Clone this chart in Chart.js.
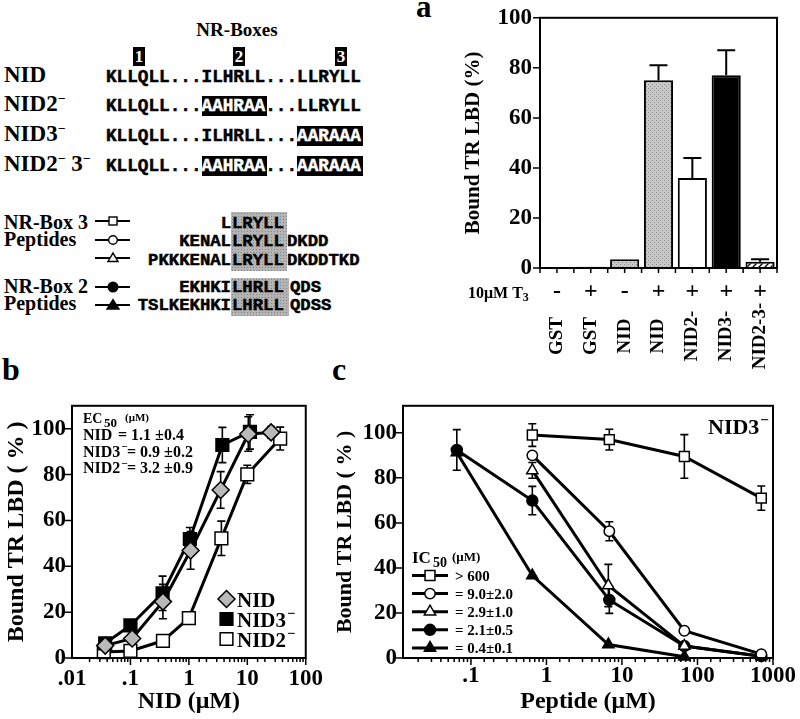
<!DOCTYPE html>
<html>
<head>
<meta charset="utf-8">
<title>NID binding to TR LBD</title>
<script src="https://cdn.jsdelivr.net/npm/chart.js@4.4.1/dist/chart.umd.min.js"></script>
<style>
  body { margin: 0; background: #fff; }
  #page { position: relative; width: 800px; height: 719px; overflow: hidden; background: #fff;
          font-family: "Liberation Serif", "Times New Roman", serif; font-weight: bold; color: #000; }
  #page div, #page canvas, #page svg { position: absolute; }
  .t { white-space: nowrap; line-height: 1; }
  .seq, .pep { font-family: "Liberation Mono", "Courier New", monospace; line-height: 1; white-space: pre;
               -webkit-text-stroke: 0.5px #000; }
  .seq { font-size: 17.7px; }
  .pep { font-size: 17.3px; }
  .mut { background: #000; color: #fff; -webkit-text-stroke-color: #fff; padding-right: 2px; margin-right: -2px; }
  .box { background: #000; color: #fff; width: 12px; height: 19px; font-size: 17px; line-height: 19px; text-align: center; }
  .core { background-color: #b4b4b4; background-image: radial-gradient(#858585 0.7px, transparent 0.9px); background-size: 3px 3px; }
  sup { font-size: 0.6em; vertical-align: 0.55em; line-height: 0; }
</style>
</head>
<body>
<div id="page">
  <!-- NR box constructs -->
  <div class="t" style="left:237px;top:20px;font-size:19px;transform:translateX(-50%)">NR-Boxes</div>
  <div class="box" style="left:133px;top:47px">1</div>
  <div class="box" style="left:233px;top:47px">2</div>
  <div class="box" style="left:335px;top:47px">3</div>

  <div class="t" style="left:4px;top:63px;font-size:23px">NID</div>
  <div class="t" style="left:4px;top:92px;font-size:23px">NID2<sup>−</sup></div>
  <div class="t" style="left:4px;top:122px;font-size:23px">NID3<sup>−</sup></div>
  <div class="t" style="left:4px;top:152px;font-size:23px">NID2<sup>−</sup> 3<sup>−</sup></div>

  <div class="seq" style="left:106px;top:69px">KLLQLL...ILHRLL...LLRYLL</div>
  <div class="seq" style="left:106px;top:98px">KLLQLL...<span class="mut">AAHRAA</span>...LLRYLL</div>
  <div class="seq" style="left:106px;top:128px">KLLQLL...ILHRLL...<span class="mut">AARAAA</span></div>
  <div class="seq" style="left:106px;top:158px">KLLQLL...<span class="mut">AAHRAA</span>...<span class="mut">AARAAA</span></div>

  <!-- peptides -->
  <div class="t" style="left:4px;top:212px;font-size:20px">NR-Box 3</div>
  <div class="t" style="left:4px;top:229px;font-size:20px">Peptides</div>
  <div class="t" style="left:4px;top:276px;font-size:20px">NR-Box 2</div>
  <div class="t" style="left:4px;top:293px;font-size:20px">Peptides</div>

  <div class="core" style="left:231px;top:212px;width:56px;height:59px"></div>
  <div class="core" style="left:231px;top:278px;width:58px;height:38px"></div>

  <div class="pep" style="right:569px;top:215px">L</div>
  <div class="pep" style="left:232px;top:215px">LRYLL</div>
  <div class="pep" style="right:569px;top:233px">KENAL</div>
  <div class="pep" style="left:232px;top:233px">LRYLL</div>
  <div class="pep" style="left:287px;top:233px">DKDD</div>
  <div class="pep" style="right:569px;top:252px">PKKKENAL</div>
  <div class="pep" style="left:232px;top:252px">LRYLL</div>
  <div class="pep" style="left:287px;top:252px">DKDDTKD</div>
  <div class="pep" style="right:569px;top:279px">EKHKI</div>
  <div class="pep" style="left:232px;top:279px">LHRLL</div>
  <div class="pep" style="left:290px;top:279px">QDS</div>
  <div class="pep" style="right:569px;top:297px">TSLKEKHKI</div>
  <div class="pep" style="left:232px;top:297px">LHRLL</div>
  <div class="pep" style="left:290px;top:297px">QDSS</div>

  <svg style="left:0;top:0" width="400" height="330">
    <g stroke="#000" stroke-width="2.2">
      <line x1="95" y1="221" x2="130" y2="221"/>
      <line x1="95" y1="240" x2="130" y2="240"/>
      <line x1="95" y1="258" x2="130" y2="258"/>
      <line x1="95" y1="287" x2="130" y2="287"/>
      <line x1="95" y1="305" x2="130" y2="305"/>
    </g>
    <g stroke="#000" stroke-width="1.4">
      <rect x="109" y="217" width="8" height="8" fill="#fff"/>
      <circle cx="113" cy="240" r="4.3" fill="#fff"/>
      <polygon points="113,253 118,261.5 108,261.5" fill="#fff"/>
      <circle cx="113" cy="287" r="4.8" fill="#000"/>
      <polygon points="113,299.5 119,309 107,309" fill="#000"/>
    </g>
  </svg>

  <div class="t" style="left:416px;top:-9px;font-size:31px">a</div>
  <div class="t" style="left:2px;top:353px;font-size:32px">b</div>
  <div class="t" style="left:332px;top:353px;font-size:32px">c</div>

  <canvas id="chartA" width="400" height="384" style="left:400px;top:-4px"></canvas>
  <canvas id="chartB" width="330" height="333" style="left:0px;top:386px"></canvas>
  <canvas id="chartC" width="470" height="333" style="left:330px;top:386px"></canvas>
</div>

<script>
// ---- panel a: pull-down with GST-NID constructs ----
const bindingLabels = ['GST', 'GST', 'NID', 'NID', 'NID2-', 'NID3-', 'NID2-3-'];
const t3Added = ['-', '+', '-', '+', '+', '+', '+'];
const boundPct = [0, 0.5, 3.5, 75, 36, 77, 2.5];
const boundErr = [0, 0, 0, 6, 8, 10, 1];

// ---- panel b: NID titration (uM) ----
const nidConc = [0.037, 0.107, 0.36, 1.07, 3.5, 10.4, 25.5];
const nidBound = [5.4, 8.5, 24.6, 46.9, 73.3, 97.7, 98.4];
const nidErr = [1, 1.5, 7.5, 8.2, 8, 7.5, 2.5];
const nid3Conc = [0.037, 0.1, 0.355, 1.04, 3.74, 11.1];
const nid3Bound = [6.4, 14.2, 28.2, 51.9, 92.9, 98.6];
const nid3Err = [1, 1, 7.5, 5, 7.7, 7.5];
const nid2Conc = [0.035, 0.1, 0.36, 1.0, 3.6, 10, 36.5];
const nid2Bound = [2.6, 3.1, 7.5, 17.4, 52.2, 80.1, 95.7];
const nid2Err = [0.5, 0.5, 1, 1, 7.5, 4, 5];

// ---- panel c: peptide competition (uM) ----
const box3Conc = [0.65, 6.8, 67, 700];
const llrylBound = [99, 97, 89.5, 71];
const llrylErr = [5, 4.6, 9.7, 5.4];
const kenalBound = [90, 56.3, 12.1, 1.7];
const kenalErr = [0, 4.2, 0, 0];
const pkkkConc = [0.65, 6.6, 67, 700];
const pkkkBound = [83.3, 32.2, 5.3, 0.8];
const pkkkErr = [3.5, 9.4, 0, 0];
const ekhkiConc = [0.065, 0.65, 6.8, 67, 700];
const ekhkiBound = [92.4, 69.9, 25.8, 5.3, 0.8];
const ekhkiErr = [9, 6.3, 6, 0, 0];
const tslkConc = [0.065, 0.65, 6.6, 67];
const tslkBound = [91.3, 36.6, 6.0, 0.6];
const ic50Labels = ['> 600', '= 9.0\u00b12.0', '= 2.9\u00b11.0', '= 2.1\u00b10.5', '= 0.4\u00b10.1'];

const SERIF = '"Liberation Serif", "Times New Roman", serif';
Chart.defaults.font.family = SERIF;
Chart.defaults.font.weight = 'bold';
Chart.defaults.color = '#000';
Chart.defaults.animation = false;
Chart.defaults.plugins.legend.display = false;
Chart.defaults.plugins.tooltip.enabled = false;

function isDecade(v) {
    const p = Math.log10(v);
    return Math.abs(p - Math.round(p)) < 1e-6;
}

function decadeLabel(v) {
    if (!isDecade(v)) return '';
    return v < 1 ? String(+v.toPrecision(1)).replace(/^0/, '') : String(Math.round(v));
}

const pctLabel = v => (v % 20 === 0 && v <= 100) ? v : '';

function font(size) {
    return `bold ${size}px ${SERIF}`;
}

function supMinus(ctx, x, baseline, size) {
    ctx.font = font(size * 0.7);
    ctx.fillText('\u2212', x, baseline - size * 0.42);
}

function stipplePattern() {
    const c = document.createElement('canvas');
    c.width = c.height = 4;
    const g = c.getContext('2d');
    g.fillStyle = '#c8c8c8';
    g.fillRect(0, 0, 4, 4);
    g.fillStyle = '#8a8a8a';
    g.fillRect(0, 0, 1, 1);
    g.fillRect(2, 2, 1, 1);
    return g.createPattern(c, 'repeat');
}

function hatchPattern() {
    const c = document.createElement('canvas');
    c.width = c.height = 6;
    const g = c.getContext('2d');
    g.fillStyle = '#fff';
    g.fillRect(0, 0, 6, 6);
    g.strokeStyle = '#000';
    g.lineWidth = 1.3;
    g.beginPath();
    g.moveTo(0, 6); g.lineTo(6, 0);
    g.moveTo(-1, 1); g.lineTo(1, -1);
    g.moveTo(5, 7); g.lineTo(7, 5);
    g.stroke();
    return g.createPattern(c, 'repeat');
}

// box around the plot with outward tick marks
const framePlugin = {
    id: 'frame',
    afterDraw(chart) {
        const {ctx, chartArea: a, scales: {x, y}} = chart;
        ctx.save();
        ctx.strokeStyle = '#000';
        ctx.lineWidth = 2;
        ctx.strokeRect(a.left, a.top, a.right - a.left, a.bottom - a.top);
        ctx.lineWidth = 1.5;
        ctx.beginPath();
        y.ticks.forEach(t => {
            if (t.value % 10 !== 0) return;
            const py = y.getPixelForValue(t.value);
            const len = t.value % 20 === 0 ? 7 : 4;
            ctx.moveTo(a.left - len, py);
            ctx.lineTo(a.left, py);
        });
        if (x.type === 'category') {
            const half = (x.getPixelForValue(1) - x.getPixelForValue(0)) / 2;
            x.ticks.forEach((t, i) => {
                const px = x.getPixelForValue(i);
                [px - half, px, px + half].forEach(p => {
                    ctx.moveTo(p, a.bottom);
                    ctx.lineTo(p, a.bottom + 5);
                });
            });
        } else {
            x.ticks.forEach(t => {
                const px = x.getPixelForValue(t.value);
                if (px < a.left + 1 || px > a.right + 1) return;
                const len = isDecade(t.value) ? 7 : 4;
                ctx.moveTo(px, a.bottom);
                ctx.lineTo(px, a.bottom + len);
            });
        }
        ctx.stroke();
        ctx.restore();
    }
};

const barErrorPlugin = {
    id: 'barErrors',
    afterDatasetsDraw(chart) {
        const {ctx, scales: {y}} = chart;
        const ds = chart.data.datasets[0];
        ctx.save();
        ctx.strokeStyle = '#000';
        ctx.lineWidth = 2;
        chart.getDatasetMeta(0).data.forEach((bar, i) => {
            const e = ds.errors[i];
            if (!e) return;
            const top = y.getPixelForValue(ds.data[i] + e);
            ctx.beginPath();
            ctx.moveTo(bar.x, bar.y);
            ctx.lineTo(bar.x, top);
            ctx.moveTo(bar.x - 9, top);
            ctx.lineTo(bar.x + 9, top);
            ctx.stroke();
        });
        ctx.restore();
    }
};

const pointErrorPlugin = {
    id: 'pointErrors',
    beforeDatasetsDraw(chart) {
        const {ctx, scales: {y}} = chart;
        ctx.save();
        ctx.strokeStyle = '#000';
        ctx.lineWidth = 1.6;
        chart.data.datasets.forEach((ds, i) => {
            if (!ds.errors) return;
            chart.getDatasetMeta(i).data.forEach((pt, j) => {
                const e = ds.errors[j];
                if (!e) return;
                const v = ds.data[j].y;
                const top = y.getPixelForValue(v + e);
                const bot = y.getPixelForValue(Math.max(0, v - e));
                ctx.beginPath();
                ctx.moveTo(pt.x, top); ctx.lineTo(pt.x, bot);
                ctx.moveTo(pt.x - 4, top); ctx.lineTo(pt.x + 4, top);
                ctx.moveTo(pt.x - 4, bot); ctx.lineTo(pt.x + 4, bot);
                ctx.stroke();
            });
        });
        ctx.restore();
    }
};

function marker(ctx, ds, x, y) {
    ctx.fillStyle = ds.pointBackgroundColor;
    ctx.strokeStyle = '#000';
    ctx.lineWidth = ds.pointBorderWidth;
    Chart.helpers.drawPoint(ctx, {
        pointStyle: ds.pointStyle,
        radius: ds.pointRadius,
        rotation: 0,
        borderWidth: ds.pointBorderWidth
    }, x, y);
}

// T3 row and construct names under the bars
const treatmentPlugin = {
    id: 'treatment',
    afterDraw(chart) {
        const {ctx, scales: {x}, chartArea: a} = chart;
        const signY = a.bottom + 30;
        const nameY = a.bottom + 68;
        ctx.save();
        ctx.fillStyle = '#000';
        ctx.textBaseline = 'alphabetic';
        ctx.textAlign = 'left';
        ctx.font = font(16);
        ctx.fillText('10\u03bcM T', 68, signY);
        const w = ctx.measureText('10\u03bcM T').width;
        ctx.font = font(12);
        ctx.fillText('3', 68 + w, signY + 3);
        ctx.textAlign = 'center';
        ctx.font = font(24);
        t3Added.forEach((s, i) => ctx.fillText(s, x.getPixelForValue(i), signY));
        ctx.textBaseline = 'middle';
        ctx.font = font(19);
        bindingLabels.forEach((lab, i) => {
            ctx.save();
            ctx.translate(x.getPixelForValue(i), nameY);
            ctx.rotate(-Math.PI / 2);
            ctx.fillText(lab, 0, 0);
            ctx.restore();
        });
        ctx.restore();
    }
};

const legendB = {
    id: 'legendB',
    afterDraw(chart) {
        const ctx = chart.ctx;
        ctx.save();
        ctx.fillStyle = '#000';
        ctx.textAlign = 'left';
        ctx.textBaseline = 'alphabetic';
        // EC50 block
        ctx.font = font(14); ctx.fillText('EC', 83, 37);
        ctx.font = font(13); ctx.fillText('50', 104, 41);
        ctx.font = font(11); ctx.fillText('(\u03bcM)', 125, 35);
        const rows = [['NID', '= 1.1 \u00b10.4', false], ['NID3', '= 0.9 \u00b10.2', true], ['NID2', '= 3.2 \u00b10.9', true]];
        rows.forEach(([name, val, sup], i) => {
            const base = 54 + i * 16.7;
            ctx.font = font(16);
            ctx.fillStyle = '#000';
            ctx.fillText(name, 83, base);
            const w = ctx.measureText(name).width;
            if (sup) supMinus(ctx, 84 + w, base, 16);
            ctx.font = font(16);
            ctx.fillText(val, sup ? 127 : 118, base);
        });
        // symbol legend
        chart.data.datasets.forEach((ds, i) => {
            const y = 213 + i * 20;
            marker(ctx, ds, 226.5, y);
            ctx.fillStyle = '#000';
            ctx.font = font(21);
            const name = ds.label.replace('-', '');
            ctx.fillText(name, 237, y + 7.5);
            if (ds.label.endsWith('-')) supMinus(ctx, 238 + ctx.measureText(name).width, y + 7.5, 21);
        });
        ctx.restore();
    }
};

const legendC = {
    id: 'legendC',
    afterDraw(chart) {
        const ctx = chart.ctx;
        ctx.save();
        ctx.fillStyle = '#000';
        ctx.textAlign = 'left';
        ctx.textBaseline = 'alphabetic';
        ctx.font = font(22);
        ctx.fillText('NID3', 378, 48);
        supMinus(ctx, 378 + ctx.measureText('NID3').width + 1, 48, 22);
        ctx.font = font(17); ctx.fillText('IC', 82, 177);
        ctx.font = font(14); ctx.fillText('50', 103, 181);
        ctx.font = font(13); ctx.fillText('(\u03bcM)', 122, 175);
        chart.data.datasets.forEach((ds, i) => {
            const y = 189.5 + i * 18.1;
            ctx.strokeStyle = '#000';
            ctx.lineWidth = 3;
            ctx.beginPath();
            ctx.moveTo(82, y);
            ctx.lineTo(118, y);
            ctx.stroke();
            marker(ctx, ds, 100, y);
            ctx.fillStyle = '#000';
            ctx.font = font(15);
            ctx.fillText(ds.label, 125, y + 5);
        });
        ctx.restore();
    }
};

function series(label, xs, ys, errs, style) {
    return Object.assign({
        label,
        data: xs.map((x, i) => ({x, y: ys[i]})),
        errors: errs,
        borderColor: '#000',
        borderWidth: 3,
        tension: 0,
        clip: false,
        pointBorderColor: '#000',
        pointBorderWidth: 1.5
    }, style);
}

function logAxis(min, max, title, pad) {
    return {
        type: 'logarithmic', min, max,
        grid: {display: false, drawTicks: false},
        border: {display: false},
        ticks: {autoSkip: false, maxRotation: 0, minRotation: 0, padding: pad, font: {size: 23}, callback: decadeLabel},
        title: {display: true, text: title, font: {size: 24}, padding: {top: 0, bottom: 3}},
        afterFit: s => { s.height = 61; }
    };
}

function pctAxis(max, width, titleSize, titlePad) {
    return {
        min: 0, max,
        grid: {display: false, drawTicks: false},
        border: {display: false},
        ticks: {stepSize: 10, padding: 6, font: {size: 23}, callback: pctLabel},
        title: {display: true, text: 'Bound TR LBD ( % )', font: {size: titleSize}, padding: {top: titlePad, bottom: 0}},
        afterFit: s => { s.width = width; }
    };
}

// panel a
const stipple = stipplePattern();
new Chart(document.getElementById('chartA'), {
    type: 'bar',
    data: {
        labels: bindingLabels,
        datasets: [{
            data: boundPct,
            errors: boundErr,
            backgroundColor: ['#fff', '#fff', stipple, stipple, '#fff', '#000', hatchPattern()],
            borderColor: '#000',
            borderWidth: 2,
            barPercentage: 0.86,
            categoryPercentage: 1
        }]
    },
    options: {
        responsive: false,
        layout: {padding: {right: 23}},
        scales: {
            x: {
                grid: {display: false, drawTicks: false},
                border: {display: false},
                ticks: {display: false},
                afterFit: s => { s.height = 112; }
            },
            y: {
                min: 0, max: 100,
                grid: {display: false, drawTicks: false},
                border: {display: false},
                ticks: {stepSize: 10, padding: 8, font: {size: 23}, callback: pctLabel},
                title: {display: true, text: 'Bound TR LBD (%)', font: {size: 21}, padding: {top: 61, bottom: 0}},
                afterFit: s => { s.width = 140; }
            }
        }
    },
    plugins: [framePlugin, barErrorPlugin, treatmentPlugin]
});

// panel b
new Chart(document.getElementById('chartB'), {
    type: 'line',
    data: {
        datasets: [
            series('NID', nidConc, nidBound, nidErr, {pointStyle: 'rectRot', pointRadius: 8.5, pointBackgroundColor: '#b9b9b9'}),
            series('NID3-', nid3Conc, nid3Bound, nid3Err, {pointStyle: 'rect', pointRadius: 9, pointBackgroundColor: '#000'}),
            series('NID2-', nid2Conc, nid2Bound, nid2Err, {pointStyle: 'rect', pointRadius: 9, pointBackgroundColor: '#fff'})
        ]
    },
    options: {
        responsive: false,
        layout: {padding: {right: 18}},
        scales: {
            x: logAxis(0.01, 100, 'NID (\u03bcM)', 7),
            y: pctAxis(110, 72, 24, 2.6)
        }
    },
    plugins: [framePlugin, pointErrorPlugin, legendB]
});

// panel c
new Chart(document.getElementById('chartC'), {
    type: 'line',
    data: {
        datasets: [
            series(ic50Labels[0], box3Conc, llrylBound, llrylErr, {pointStyle: 'rect', pointRadius: 7, pointBackgroundColor: '#fff'}),
            series(ic50Labels[1], box3Conc, kenalBound, kenalErr, {pointStyle: 'circle', pointRadius: 5.2, pointBackgroundColor: '#fff'}),
            series(ic50Labels[2], pkkkConc, pkkkBound, pkkkErr, {pointStyle: 'triangle', pointRadius: 6.5, pointBackgroundColor: '#fff'}),
            series(ic50Labels[3], ekhkiConc, ekhkiBound, ekhkiErr, {pointStyle: 'circle', pointRadius: 5.5, pointBackgroundColor: '#000'}),
            series(ic50Labels[4], tslkConc, tslkBound, null, {pointStyle: 'triangle', pointRadius: 6.5, pointBackgroundColor: '#000'})
        ]
    },
    options: {
        responsive: false,
        layout: {padding: {right: 25}},
        scales: {
            x: logAxis(0.0126, 1000, 'Peptide (\u03bcM)', 4),
            y: pctAxis(112, 73, 22, 2)
        }
    },
    plugins: [framePlugin, pointErrorPlugin, legendC]
});
</script>
</body>
</html>
